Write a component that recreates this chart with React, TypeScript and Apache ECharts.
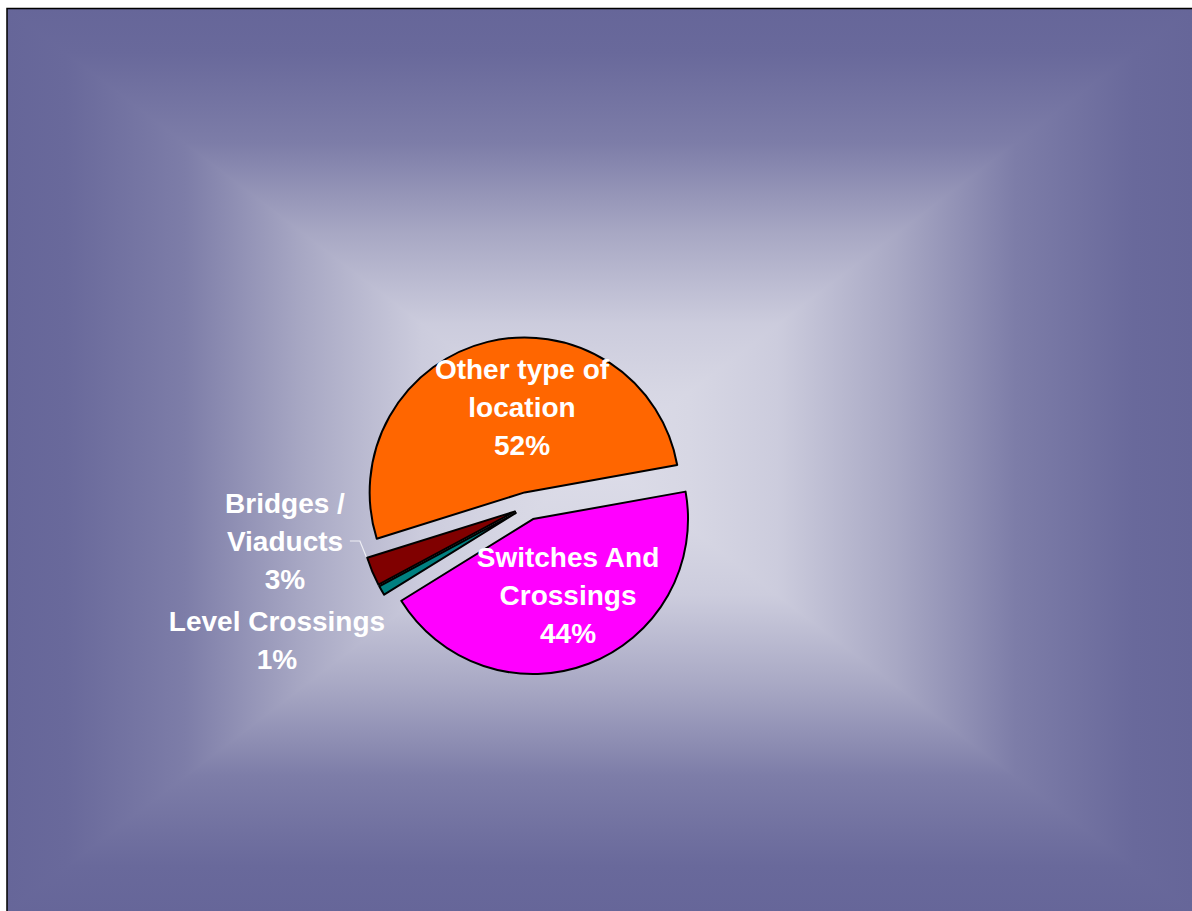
import React, { useEffect, useRef } from "react";
import * as echarts from "echarts";

const categories = [
  "Other type of location",
  "Switches And Crossings",
  "Level Crossings",
  "Bridges / Viaducts",
];
const labelTexts = [
  "Other type of\nlocation",
  "Switches And\nCrossings",
  "Level Crossings",
  "Bridges /\nViaducts",
];
const values = [52, 44, 1, 3];
const colors = ["#FF6600", "#FF00FF", "#008080", "#800000"];

// label centre positions (page pixels), per category index
const labelPos: [number, number][] = [
  [522, 407],
  [568, 595],
  [277, 640],
  [285, 541],
];

const stops = [
  { offset: 0, color: "rgb(102,102,153)" },
  { offset: 0.1, color: "rgb(105,105,155)" },
  { offset: 0.3, color: "rgb(125,125,168)" },
  { offset: 0.5, color: "rgb(168,168,196)" },
  { offset: 0.7, color: "rgb(204,204,221)" },
  { offset: 0.85, color: "rgb(215,215,228)" },
  { offset: 1, color: "rgb(221,221,233)" },
];

export default function App() {
  const ref = useRef<HTMLDivElement>(null);
  useEffect(() => {
    if (!ref.current) return;
    const chart = echarts.init(ref.current, undefined, { renderer: "svg" });
    const L = 7, T = 8, R = 1193, B = 912, CX = 600, CY = 460;
    const PCX = 528, PCY = 506, PR = 155, START = 197.4, OFF = 14;
    const total = values.reduce((a, b) => a + b, 0);
    const mids: number[] = [];
    let acc = 0;
    values.forEach((v) => {
      mids.push(((START - ((acc + v / 2) / total) * 360) * Math.PI) / 180);
      acc += v;
    });
    const grad = (x: number, y: number, x2: number, y2: number) =>
      new echarts.graphic.LinearGradient(x, y, x2, y2, stops, true);
    chart.setOption({
      animation: false,
      backgroundColor: "#ffffff",
      graphic: [
        {
          type: "polygon",
          z: 0,
          silent: true,
          shape: { points: [[L, T], [R, T], [CX, CY]] },
          style: { fill: grad(0, T, 0, CY) },
        },
        {
          type: "polygon",
          z: 0,
          silent: true,
          shape: { points: [[L, B], [R, B], [CX, CY]] },
          style: { fill: grad(0, B, 0, CY) },
        },
        {
          type: "polygon",
          z: 0,
          silent: true,
          shape: { points: [[L, T - 1.5], [L, B + 1.5], [CX + 2, CY]] },
          style: { fill: grad(L, 0, CX, 0) },
        },
        {
          type: "polygon",
          z: 0,
          silent: true,
          shape: { points: [[R, T - 1.5], [R, B + 1.5], [CX - 2, CY]] },
          style: { fill: grad(R, 0, CX, 0) },
        },
        {
          type: "rect",
          z: 1,
          silent: true,
          shape: { x: 0, y: 0, width: 1192, height: T },
          style: { fill: "#ffffff" },
        },
        {
          type: "polyline",
          z: 1,
          silent: true,
          shape: { points: [[L, B], [L, T + 0.5], [R, T + 0.5]] },
          style: { stroke: "#000", lineWidth: 1.5, fill: null },
        },
      ],
      series: [
        {
          type: "pie",
          z: 2,
          center: [PCX, PCY],
          radius: PR,
          startAngle: START,
          clockwise: true,
          selectedMode: "multiple",
          selectedOffset: OFF,
          avoidLabelOverlap: false,
          emphasis: { disabled: true },
          itemStyle: { borderColor: "#000", borderWidth: 2 },
          label: {
            color: "#ffffff",
            fontFamily: 'Arial, "Liberation Sans", sans-serif',
            fontWeight: "bold",
            fontSize: 28,
            lineHeight: 38,
            align: "center",
            formatter: (p: any) =>
              `${labelTexts[p.dataIndex]}\n${Math.round(p.percent)}%`,
          },
          labelLine: {
            show: false,
            lineStyle: { color: "#eeeef4", width: 1.2 },
          },
          labelLayout: (p: any) => {
            const i = p.dataIndex;
            const [tx, ty] = labelPos[i];
            const r = p.labelRect;
            const ox = OFF * Math.cos(mids[i]);
            const oy = -OFF * Math.sin(mids[i]);
            const inside = i < 2;
            const anchorX = inside ? r.x + r.width / 2 : r.x + r.width;
            const res: any = {
              dx: tx - ox - anchorX,
              dy: ty - oy - (r.y + r.height / 2),
              align: "center",
            };
            if (i === 3) {
              const endX = tx + r.width / 2 + 5 - ox;
              const endY = ty - oy;
              const edge = [
                PCX + PR * Math.cos(mids[i]),
                PCY - PR * Math.sin(mids[i]),
              ];
              res.labelLinePoints = [edge, [endX + 10, endY], [endX, endY]];
            }
            return res;
          },
          data: categories.map((name, i) => ({
            name,
            value: values[i],
            selected: true,
            itemStyle: { color: colors[i] },
            label: { position: i < 2 ? "inside" : "outside" },
            labelLine: { show: i === 3, length: 8, length2: 8 },
          })),
        },
      ],
    });
    return () => chart.dispose();
  }, []);
  return (
    <div
      ref={ref}
      style={{ position: "fixed", left: 0, top: 0, width: 1192, height: 911 }}
    />
  );
}
